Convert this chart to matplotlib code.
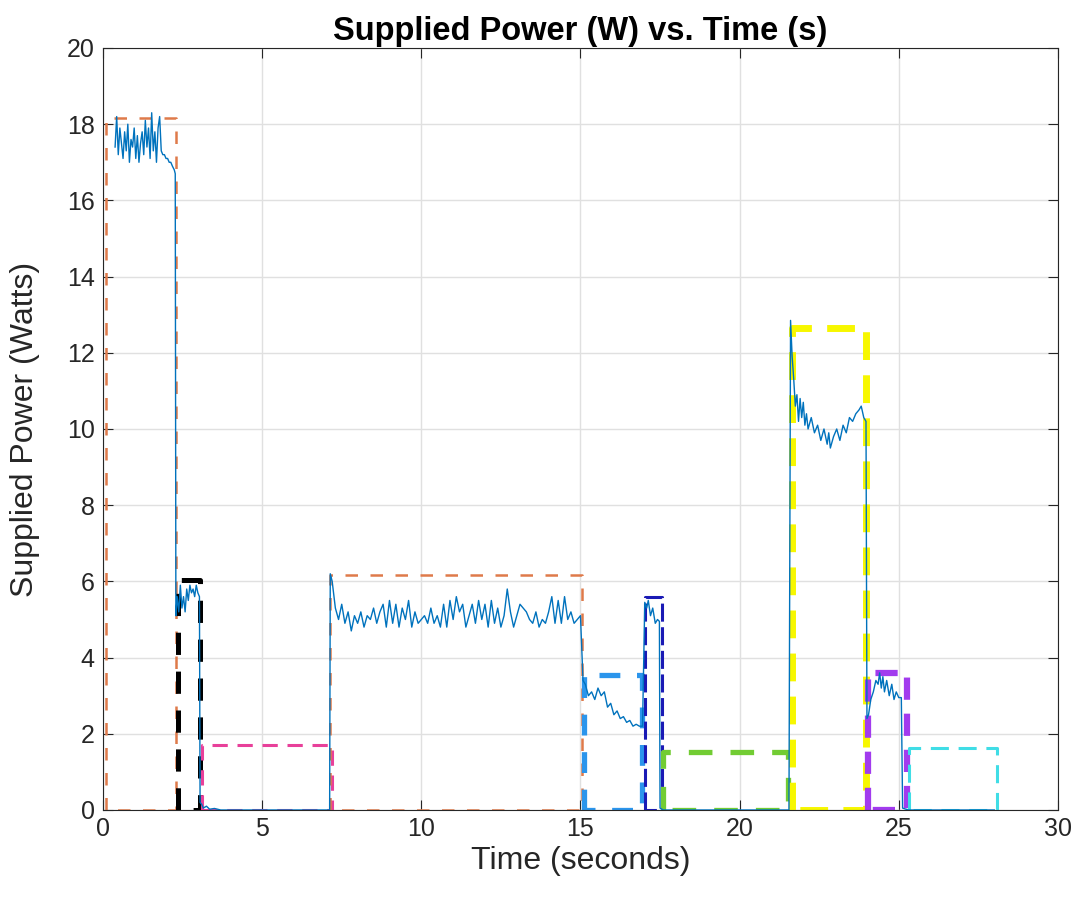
"""Supplied power trace with dashed boxes marking each operating phase."""
import matplotlib
matplotlib.use("Agg")
import matplotlib.pyplot as plt

plt.rcParams["font.family"] = ["Liberation Sans", "DejaVu Sans"]
plt.rcParams["lines.scale_dashes"] = False

# measured power trace (s, W)
sig_t = [
    0.38, 0.43, 0.48, 0.53, 0.58, 0.63, 0.68, 0.73, 0.78, 0.83,
    0.88, 0.93, 0.98, 1.03, 1.08, 1.13, 1.18, 1.23, 1.28, 1.33,
    1.38, 1.43, 1.48, 1.53, 1.58, 1.63, 1.68, 1.73, 1.78, 1.83,
    1.88, 1.93, 1.98, 2.03, 2.08, 2.13, 2.18, 2.24, 2.27,
    2.29, 2.33, 2.38, 2.43, 2.48, 2.53, 2.58, 2.63, 2.68, 2.73,
    2.78, 2.83, 2.88, 2.93, 2.98, 3.03,
    3.05, 3.10, 3.15, 3.25, 3.35, 3.50, 3.70, 4.50, 5.50, 6.50, 7.12,
    7.14, 7.2, 7.3, 7.4, 7.5, 7.6, 7.7, 7.8, 7.9, 8.0,
    8.1, 8.2, 8.3, 8.4, 8.5, 8.6, 8.7, 8.8, 8.9, 9.0,
    9.1, 9.2, 9.3, 9.4, 9.5, 9.6, 9.7, 9.8, 9.9, 10.0,
    10.1, 10.2, 10.3, 10.4, 10.5, 10.6, 10.7, 10.8, 10.9, 11.0,
    11.1, 11.2, 11.3, 11.4, 11.5, 11.6, 11.7, 11.8, 11.9, 12.0,
    12.1, 12.2, 12.3, 12.4, 12.5, 12.6, 12.7, 12.8, 12.9, 13.0,
    13.1, 13.2, 13.3, 13.4, 13.5, 13.6, 13.7, 13.8, 13.9, 14.0,
    14.1, 14.2, 14.3, 14.4, 14.5, 14.6, 14.7, 14.8, 14.9, 15.0,
    15.08, 15.15, 15.25, 15.35, 15.45, 15.55, 15.65, 15.75, 15.85, 15.95,
    16.05, 16.15, 16.25, 16.35, 16.45, 16.55, 16.65, 16.75, 16.85, 16.95,
    17.02, 17.08, 17.13, 17.2, 17.27, 17.35, 17.42, 17.48,
    17.5, 17.6, 19.0, 20.5, 21.55,
    21.6, 21.65, 21.7, 21.75, 21.8, 21.85, 21.9, 21.95, 22.0, 22.05,
    22.1, 22.15, 22.25, 22.35, 22.45, 22.55, 22.65, 22.75, 22.8, 22.85,
    22.95, 23.05, 23.15, 23.25, 23.35, 23.45, 23.55, 23.65, 23.75, 23.82,
    23.9, 23.97,
    24.0, 24.05, 24.12, 24.2, 24.28, 24.35, 24.4, 24.45, 24.5, 24.55,
    24.62, 24.7, 24.78, 24.85, 24.92, 25.0, 25.08,
    25.12, 25.3, 26.5, 28.0,
]
sig_p = [
    17.4, 18.2, 17.2, 17.9, 17.5, 17.1, 17.8, 17.3, 18.0, 17.0,
    17.6, 17.4, 17.9, 17.1, 17.7, 17.0, 17.5, 17.8, 17.2, 18.1,
    17.4, 17.9, 17.1, 18.3, 17.3, 17.8, 17.0, 17.9, 18.2, 17.3,
    17.2, 17.2, 17.1, 17.1, 17.0, 17.0, 16.9, 16.8, 16.7,
    5.1, 5.6, 5.2, 5.9, 5.3, 5.6, 5.2, 5.8, 5.5, 5.9,
    5.7, 5.8, 5.6, 5.9, 5.7, 5.6,
    0.2, 0.15, 0.05, 0.1, 0.02, 0.04, 0.0, 0.0, 0.0, 0.0, 0.0,
    6.2, 6.0, 5.3, 5.0, 5.4, 4.9, 5.2, 4.7, 5.1, 4.9,
    5.2, 4.8, 5.1, 5.0, 5.3, 4.9, 5.2, 5.4, 4.8, 5.5,
    4.9, 5.4, 4.8, 5.3, 5.0, 5.5, 4.8, 5.2, 4.9, 5.0,
    5.1, 4.9, 5.3, 4.9, 5.1, 4.8, 5.4, 4.8, 5.5, 5.0,
    5.6, 5.2, 5.4, 4.8, 5.1, 5.4, 4.9, 5.5, 5.0, 5.4,
    4.8, 5.5, 4.9, 5.3, 4.8, 5.1, 5.8, 5.2, 4.8, 5.1,
    5.4, 5.3, 5.2, 5.0, 4.9, 5.2, 4.8, 5.0, 4.9, 5.2,
    5.6, 4.9, 5.5, 4.9, 5.6, 5.0, 5.2, 4.9, 5.0, 5.1,
    3.4, 3.3, 3.0, 3.1, 2.9, 3.2, 3.0, 3.1, 2.7, 2.8,
    2.5, 2.6, 2.4, 2.45, 2.3, 2.35, 2.2, 2.25, 2.2, 2.2,
    5.45, 5.3, 5.5, 5.1, 5.3, 4.9, 5.0, 4.95,
    0.05, 0.0, 0.0, 0.0, 0.0,
    12.85, 11.9, 11.3, 10.6, 10.9, 10.2, 10.8, 10.3, 10.7, 10.1,
    10.4, 10.0, 10.3, 9.9, 10.1, 9.7, 10.0, 9.6, 9.9, 9.5,
    9.8, 10.0, 9.7, 10.1, 9.9, 10.3, 10.2, 10.4, 10.5, 10.6,
    10.3, 10.2,
    2.4, 2.5, 2.9, 3.1, 3.4, 3.3, 3.6, 3.2, 3.5, 3.1,
    3.4, 3.0, 3.3, 2.9, 3.1, 2.95, 2.95,
    0.05, 0.0, 0.0, 0.0,
]

# phase boxes: left edge, right edge, height
box_x0 = [0.09, 2.36, 3.12, 7.13, 15.12, 17.02, 17.58, 21.64, 24.03, 25.32]
box_x1 = [2.29, 3.05, 7.18, 15.06, 16.94, 17.55, 21.53, 23.97, 25.25, 28.08]
box_h = [18.15, 6.03, 1.71, 6.16, 3.54, 5.59, 1.52, 12.65, 3.6, 1.63]
box_color = ["#DF7A4A", "#000000", "#E8409A", "#DF7A4A", "#2B95EC",
             "#1A1AB5", "#72CC33", "#F7F700", "#A23BEE", "#40DDE6"]
box_lw = [1.8, 3.6, 2.2, 1.8, 3.8, 2.2, 3.8, 5.0, 4.5, 2.2]
box_dash = [(9, 9), (16, 12), (11, 7), (9, 9), (15, 12),
            (13, 4), (17, 13), (20, 11), (16, 10), (13, 7)]

fig = plt.figure(figsize=(10.91, 9.02), dpi=100)
ax = fig.add_axes([0.0944, 0.102, 0.8753, 0.8448])

for x0, x1, h, c, lw, d in zip(box_x0, box_x1, box_h, box_color, box_lw, box_dash):
    ax.plot([x0, x0, x1, x1, x0], [0, h, h, 0, 0], color=c, lw=lw,
            dashes=d, zorder=2)

ax.plot(sig_t, sig_p, color="#0072BD", lw=1.0, zorder=3)

ax.set_xlim(0, 30)
ax.set_ylim(0, 20)
ax.set_xticks(range(0, 31, 5))
ax.set_yticks(range(0, 21, 2))
ax.grid(True, color="#E0E0E0", lw=1.0, zorder=0)
ax.set_axisbelow(True)
ax.tick_params(direction="in", length=7, width=0.8, top=True, right=True,
               labelsize=18, colors="#262626")
ax.tick_params(axis="x", pad=5)
ax.tick_params(axis="y", pad=6)
for s in ax.spines.values():
    s.set_color("#262626")
    s.set_linewidth(0.8)

ax.set_xlabel("Time (seconds)", fontsize=23, color="#262626")
ax.set_ylabel("Supplied Power (Watts)", fontsize=23, color="#262626")
ax.xaxis.set_label_coords(0.5, -0.047)
ax.yaxis.set_label_coords(-0.066, 0.5)
ax.set_title("Supplied Power (W) vs. Time (s)", fontsize=23.5,
             fontweight="bold", pad=6)

fig.savefig("out.png", dpi=100)
